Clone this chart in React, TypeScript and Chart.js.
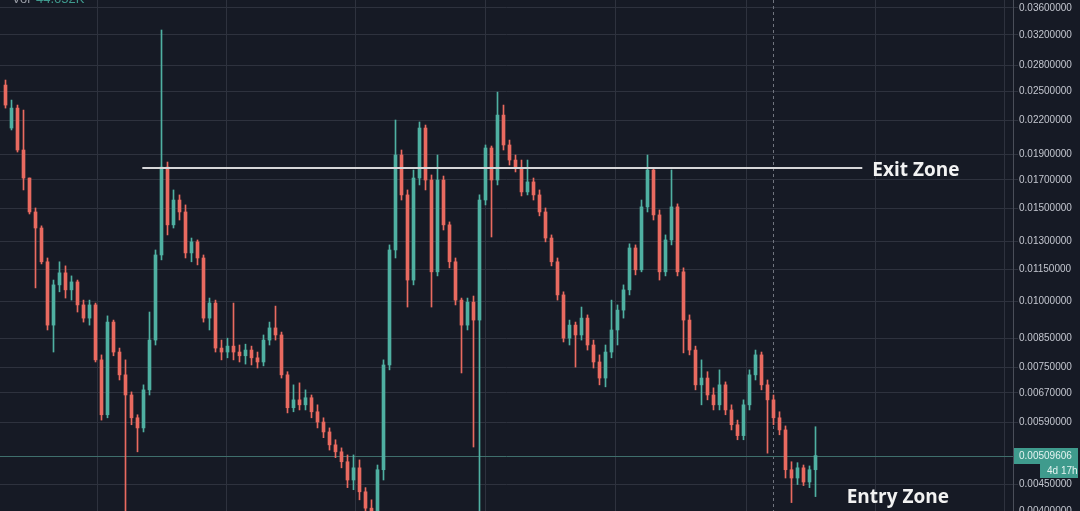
import React, { useEffect, useRef } from "react";
import { Chart, registerables } from "chart.js";

Chart.register(...registerables);

// ---- Data ----
const opens = [
  0.02571, 0.02131, 0.02325, 0.01936, 0.01713, 0.01477, 0.01377, 0.01188, 0.00901, 0.01074,
  0.01132, 0.01051, 0.01088, 0.00984, 0.00929, 0.00984, 0.00774, 0.00609, 0.00913, 0.00801,
  0.00725, 0.00664, 0.00601, 0.00575, 0.00679, 0.00844, 0.01224, 0.01797, 0.01396, 0.01556,
  0.01477, 0.01235, 0.01296, 0.01208, 0.00929, 0.00992, 0.00815, 0.00801, 0.00822, 0.00801,
  0.00788, 0.00808, 0.00781, 0.00767, 0.00844, 0.0089, 0.00863, 0.00725, 0.00628, 0.0065,
  0.00636, 0.00656, 0.00617, 0.0059, 0.00565, 0.00534, 0.00518, 0.00496, 0.00458, 0.00483,
  0.00435, 0.00405, 0.00385, 0.00479, 0.00757, 0.01251, 0.01894, 0.01591, 0.01097, 0.01713,
  0.02131, 0.01698, 0.01137, 0.01698, 0.01396, 0.01188, 0.01005, 0.00901, 0.00996, 0.00921,
  0.01556, 0.01953, 0.01698, 0.02255, 0.01979, 0.01853, 0.0179, 0.01612, 0.01684, 0.01591,
  0.01477, 0.01318, 0.01188, 0.01028, 0.00851, 0.00901, 0.00863, 0.00929, 0.00826, 0.00767,
  0.00715, 0.00801, 0.00882, 0.00962, 0.01051, 0.01262, 0.01147, 0.0151, 0.01774, 0.01458,
  0.01137, 0.01307, 0.0151, 0.01137, 0.00921, 0.00808, 0.00694, 0.00715, 0.00664, 0.00636,
  0.00694, 0.00622, 0.00583, 0.00556, 0.00636, 0.00725, 0.00791, 0.00694, 0.0065, 0.00601,
  0.0057, 0.00479, 0.00462, 0.00483, 0.00454, 0.00479,
];
const closes = [
  0.02356, 0.02325, 0.01936, 0.01713, 0.01477, 0.01377, 0.01188, 0.00901, 0.01074, 0.01132,
  0.01051, 0.01088, 0.00984, 0.00929, 0.00984, 0.00774, 0.00609, 0.00913, 0.00801, 0.00725,
  0.00664, 0.00601, 0.00575, 0.00679, 0.00844, 0.01224, 0.01797, 0.01396, 0.01556, 0.01477,
  0.01235, 0.01296, 0.01208, 0.00929, 0.00992, 0.00815, 0.00801, 0.00822, 0.00801, 0.00788,
  0.00808, 0.00781, 0.00767, 0.00844, 0.0089, 0.00863, 0.00725, 0.00628, 0.0065, 0.00636,
  0.00656, 0.00617, 0.0059, 0.00565, 0.00534, 0.00518, 0.00496, 0.00458, 0.00483, 0.00435,
  0.00405, 0.00385, 0.00479, 0.00757, 0.01251, 0.01894, 0.01591, 0.01097, 0.01713, 0.02131,
  0.01698, 0.01137, 0.01698, 0.01396, 0.01188, 0.01005, 0.00901, 0.00996, 0.00921, 0.01556,
  0.01953, 0.01698, 0.02255, 0.01979, 0.01853, 0.0179, 0.01612, 0.01684, 0.01591, 0.01477,
  0.01318, 0.01188, 0.01028, 0.00851, 0.00901, 0.00863, 0.00929, 0.00826, 0.00767, 0.00715,
  0.00801, 0.00882, 0.00962, 0.01051, 0.01262, 0.01147, 0.0151, 0.01774, 0.01458, 0.01137,
  0.01307, 0.0151, 0.01137, 0.00921, 0.00808, 0.00694, 0.00715, 0.00664, 0.00636, 0.00694,
  0.00622, 0.00583, 0.00556, 0.00636, 0.00725, 0.00791, 0.00694, 0.0065, 0.00601, 0.0057,
  0.00479, 0.00462, 0.00483, 0.00454, 0.00479, 0.005096,
];
const highs = [
  0.02628, 0.02408, 0.02356, 0.02305, 0.01713, 0.01503, 0.0139, 0.01208, 0.01097, 0.01188,
  0.01167, 0.01117, 0.01097, 0.01005, 0.01005, 0.00992, 0.00791, 0.00938, 0.00921, 0.00815,
  0.00774, 0.00673, 0.00609, 0.00694, 0.00954, 0.01251, 0.0327, 0.01837, 0.01626, 0.01591,
  0.01523, 0.01318, 0.01307, 0.01224, 0.01014, 0.01005, 0.00844, 0.00851, 0.00992, 0.00826,
  0.00829, 0.00822, 0.00801, 0.00863, 0.00913, 0.00979, 0.00874, 0.00735, 0.00694, 0.007,
  0.00679, 0.00664, 0.00636, 0.00601, 0.00575, 0.00546, 0.00527, 0.00511, 0.00511, 0.005,
  0.00443, 0.0042, 0.00489, 0.00774, 0.01279, 0.02207, 0.01936, 0.01626, 0.01774, 0.02188,
  0.02159, 0.01736, 0.01894, 0.01728, 0.01414, 0.01208, 0.01014, 0.01014, 0.01023, 0.01591,
  0.01979, 0.0197, 0.02493, 0.02356, 0.02022, 0.01894, 0.01853, 0.01853, 0.01713, 0.01626,
  0.01503, 0.01336, 0.01208, 0.01042, 0.00921, 0.00913, 0.00975, 0.00942, 0.00844, 0.00791,
  0.00826, 0.01005, 0.00984, 0.01074, 0.01285, 0.01279, 0.01556, 0.01894, 0.0179, 0.0149,
  0.01336, 0.01774, 0.0153, 0.01157, 0.00942, 0.00822, 0.00774, 0.00735, 0.00685, 0.00741,
  0.00703, 0.00636, 0.00595, 0.0065, 0.00741, 0.00808, 0.00801, 0.00709, 0.00664, 0.00617,
  0.0058, 0.00496, 0.00494, 0.00489, 0.00487, 0.00578,
];
const lows = [
  0.02325, 0.02113, 0.01919, 0.01626, 0.01464, 0.0106, 0.01177, 0.00882, 0.00801, 0.01042,
  0.01014, 0.01005, 0.00954, 0.00913, 0.00901, 0.00767, 0.00595, 0.00601, 0.00788, 0.00709,
  0.0037, 0.00583, 0.00518, 0.00565, 0.00664, 0.00826, 0.01198, 0.01336, 0.01377, 0.01426,
  0.01208, 0.01188, 0.01172, 0.00913, 0.00882, 0.00801, 0.00774, 0.00781, 0.00774, 0.00767,
  0.0076, 0.00757, 0.00747, 0.00754, 0.00826, 0.00844, 0.00715, 0.00614, 0.00617, 0.00622,
  0.00622, 0.00601, 0.00575, 0.00551, 0.00522, 0.00505, 0.00483, 0.00443, 0.00439, 0.0042,
  0.00376, 0.00361, 0.00368, 0.00458, 0.00741, 0.01208, 0.01556, 0.00975, 0.01074, 0.01662,
  0.01626, 0.00975, 0.01117, 0.01365, 0.01157, 0.00984, 0.00731, 0.00882, 0.00529, 0.00368,
  0.01523, 0.01324, 0.01662, 0.01936, 0.01813, 0.01759, 0.01584, 0.01591, 0.01556, 0.01452,
  0.01296, 0.01167, 0.01005, 0.00837, 0.00826, 0.0075, 0.00844, 0.00808, 0.00747, 0.00694,
  0.00688, 0.00781, 0.00826, 0.00929, 0.01028, 0.01122, 0.01137, 0.01477, 0.01426, 0.01097,
  0.01117, 0.01279, 0.01117, 0.00798, 0.00791, 0.00679, 0.00636, 0.0065, 0.00622, 0.00622,
  0.00609, 0.0057, 0.00546, 0.00546, 0.00622, 0.00709, 0.00679, 0.00515, 0.00583, 0.00558,
  0.00462, 0.00415, 0.00449, 0.00447, 0.00443, 0.00426,
];

const priceTicks = [
  0.036, 0.032, 0.028, 0.025, 0.022, 0.019, 0.017, 0.015, 0.013, 0.0115, 0.01, 0.0085,
  0.0075, 0.0067, 0.0059, 0.0045, 0.004,
];
const timeGridLines = [15.33, 36.83, 58.33, 80, 101.67, 123.5, 145, 166.5]; // in candle slots
const cursorSlot = 128;
const currentPrice = 0.00509606;
const countdownText = "4d 17h";
const exitZonePrice = 0.0179;
const exitZoneFrom = 22.8;
const exitZoneTo = 142.8;
const exitZoneText = "Exit Zone";
const entryZonePrice = 0.00425;
const entryZoneSlot = 140.2;
const entryZoneText = "Entry Zone";
const volLabel = "Vol";
const volValue = "44.652K";

const Y_MIN = 0.004;
const Y_MAX = 0.03728;
const X_MIN = -0.9167;
const X_MAX = 167.9167;

const BG = "#161a25";
const GRID = "#2e323e";
const UP = "#4fb0a2";
const DOWN = "#e96a60";
const TEXT = "#c3c6cf";

const candleColor = (i: number) => (closes[i] >= opens[i] ? UP : DOWN);

const overlayPlugin = {
  id: "overlay",
  beforeDraw(chart: any) {
    const { ctx, width, height } = chart;
    ctx.save();
    ctx.fillStyle = BG;
    ctx.fillRect(0, 0, width, height);
    ctx.restore();
  },
  beforeDatasetsDraw(chart: any) {
    const { ctx, chartArea } = chart;
    const x = chart.scales.x;
    const y = chart.scales.y;
    ctx.save();
    const cx = Math.round(x.getPixelForValue(cursorSlot)) + 0.5;
    ctx.strokeStyle = "#70747e";
    ctx.lineWidth = 1;
    ctx.setLineDash([3, 3]);
    ctx.beginPath();
    ctx.moveTo(cx, chartArea.top);
    ctx.lineTo(cx, chartArea.bottom);
    ctx.stroke();
    ctx.setLineDash([]);
    const py = Math.round(y.getPixelForValue(currentPrice)) + 0.5;
    ctx.strokeStyle = "#3f6f6c";
    ctx.beginPath();
    ctx.moveTo(chartArea.left, py);
    ctx.lineTo(chartArea.right, py);
    ctx.stroke();
    ctx.restore();
  },
  afterDatasetsDraw(chart: any) {
    const { ctx } = chart;
    const x = chart.scales.x;
    const y = chart.scales.y;
    ctx.save();
    const ey = y.getPixelForValue(exitZonePrice);
    const ex0 = x.getPixelForValue(exitZoneFrom);
    const ex1 = x.getPixelForValue(exitZoneTo);
    ctx.strokeStyle = "#d6d6d8";
    ctx.lineWidth = 2;
    ctx.beginPath();
    ctx.moveTo(ex0, ey);
    ctx.lineTo(ex1, ey);
    ctx.stroke();
    ctx.font = 'bold 19px "Open Sans", sans-serif';
    ctx.fillStyle = "#f2f2f2";
    ctx.textBaseline = "middle";
    ctx.textAlign = "left";
    ctx.fillText(exitZoneText, ex1 + 10, ey + 3);
    const ny = y.getPixelForValue(entryZonePrice);
    ctx.fillText(entryZoneText, x.getPixelForValue(entryZoneSlot), ny);
    ctx.font = '13px "Liberation Sans", Arial, sans-serif';
    ctx.textBaseline = "alphabetic";
    ctx.fillStyle = "#9a9da6";
    ctx.fillText(volLabel, 12, 3);
    ctx.fillStyle = "#3f9a8e";
    ctx.fillText(volValue, 36, 3);
    ctx.restore();
  },
  afterDraw(chart: any) {
    const { ctx, chartArea } = chart;
    const y = chart.scales.y;
    const py = Math.round(y.getPixelForValue(currentPrice));
    ctx.save();
    ctx.fillStyle = "#3f9b8d";
    ctx.fillRect(chartArea.right + 1, py - 8, 64, 16);
    ctx.fillRect(chartArea.right + 27, py + 7, 38, 15);
    ctx.fillStyle = "#e3f3f0";
    ctx.font = '10px "Liberation Sans", Arial, sans-serif';
    ctx.textBaseline = "middle";
    ctx.textAlign = "left";
    ctx.fillText(currentPrice.toFixed(8), chartArea.right + 6, py);
    ctx.fillText(countdownText, chartArea.right + 34, py + 15);
    ctx.restore();
  },
};

export default function App() {
  const ref = useRef<HTMLCanvasElement | null>(null);

  useEffect(() => {
    if (!ref.current) return;
    const wickData = lows.map((l, i) => ({ x: i, y: [l, highs[i]] }));
    const bodyData = opens.map((o, i) => ({ x: i, y: [o, closes[i]] }));
    const chart = new Chart(ref.current, {
      type: "bar",
      data: {
        datasets: [
          {
            data: wickData as any,
            backgroundColor: (c: any) => candleColor(c.dataIndex),
            barThickness: 1,
            grouped: false,
            order: 2,
          } as any,
          {
            data: bodyData as any,
            backgroundColor: (c: any) => candleColor(c.dataIndex),
            barThickness: 3,
            minBarLength: 1,
            grouped: false,
            order: 1,
          } as any,
        ],
      },
      options: {
        responsive: false,
        animation: false,
        devicePixelRatio: 1,
        layout: { padding: 0 },
        plugins: { legend: { display: false }, tooltip: { enabled: false } },
        scales: {
          x: {
            type: "linear",
            min: X_MIN,
            max: X_MAX,
            offset: false,
            grid: { color: GRID, drawTicks: false, offset: false },
            border: { display: false },
            ticks: { display: false },
            afterBuildTicks: (s: any) => {
              s.ticks = timeGridLines.map((v) => ({ value: v }));
            },
            afterFit: (s: any) => {
              s.height = 0;
              s.paddingLeft = 0;
              s.paddingRight = 0;
            },
          },
          y: {
            type: "logarithmic",
            position: "right",
            min: Y_MIN,
            max: Y_MAX,
            grid: { color: GRID, tickLength: 5 },
            border: { display: true, color: "#4a4e59" },
            ticks: {
              autoSkip: false,
              padding: 1,
              color: TEXT,
              font: { family: '"Liberation Sans", Arial, sans-serif', size: 10 },
              callback: (v: any) => Number(v).toFixed(8),
            },
            afterBuildTicks: (s: any) => {
              s.ticks = priceTicks.map((v) => ({ value: v }));
            },
            afterFit: (s: any) => {
              s.width = 67;
              s.paddingTop = 0;
              s.paddingBottom = 0;
            },
          },
        },
      } as any,
      plugins: [overlayPlugin],
    });
    return () => chart.destroy();
  }, []);

  return (
    <div style={{ position: "fixed", left: 0, top: 0, width: 1080, height: 511, background: BG }}>
      <canvas ref={ref} width={1080} height={511} style={{ display: "block" }} />
    </div>
  );
}
